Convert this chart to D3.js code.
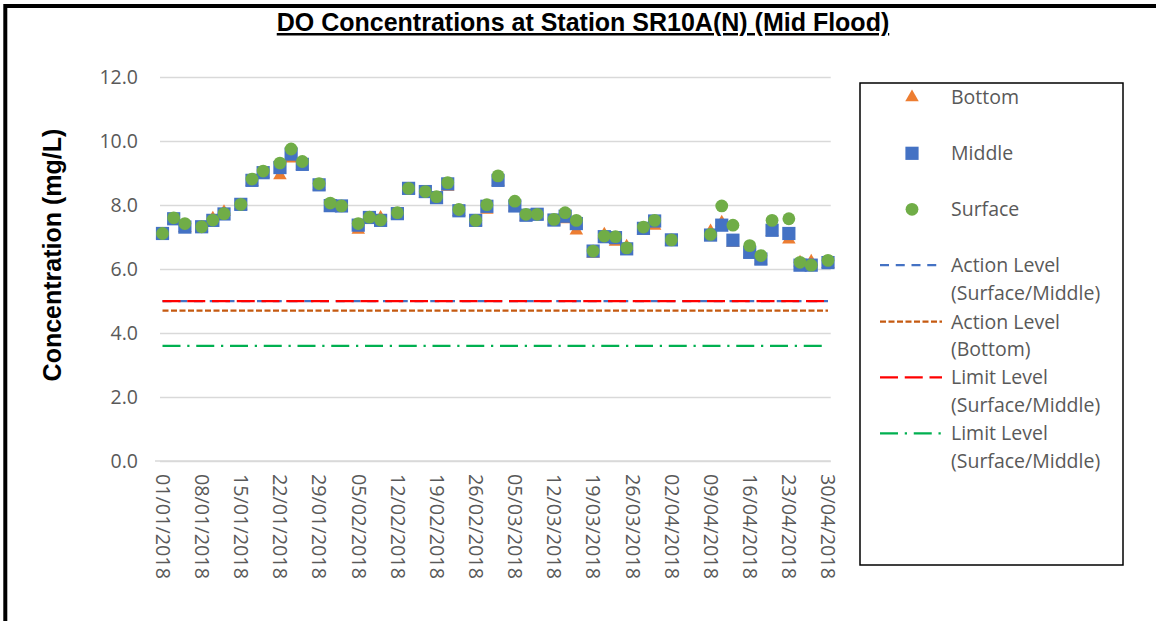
<!DOCTYPE html>
<html>
<head>
<meta charset="utf-8">
<script src="https://cdn.jsdelivr.net/npm/d3@7"></script>
<style>
  html, body { margin: 0; padding: 0; background: #fff; }
  svg { display: block; }
</style>
</head>
<body>
<svg id="chart" width="1156" height="621"></svg>
<script>
// Sampling dates (dd/mm/yyyy) and dissolved oxygen readings, mg/L
const sampleDates = [
  "01/01/2018","03/01/2018","05/01/2018","08/01/2018","10/01/2018","12/01/2018",
  "15/01/2018","17/01/2018","19/01/2018","22/01/2018","24/01/2018","26/01/2018",
  "29/01/2018","31/01/2018","02/02/2018","05/02/2018","07/02/2018","09/02/2018",
  "12/02/2018","14/02/2018","17/02/2018","19/02/2018","21/02/2018","23/02/2018",
  "26/02/2018","28/02/2018","02/03/2018","05/03/2018","07/03/2018","09/03/2018",
  "12/03/2018","14/03/2018","16/03/2018","19/03/2018","21/03/2018","23/03/2018",
  "25/03/2018","28/03/2018","30/03/2018","02/04/2018","09/04/2018","11/04/2018",
  "13/04/2018","16/04/2018","18/04/2018","20/04/2018","23/04/2018","25/04/2018",
  "27/04/2018","30/04/2018"
];
const bottomValues = [
  7.08, 7.52, 7.28, 7.28, 7.58, 7.78, 7.98, 8.72, 8.97, 8.93, 9.45, 9.22,
  8.58, 7.93, 7.92, 7.22, 7.58, 7.60, 7.70, 8.48, 8.35, 8.18, 8.57, 7.78,
  7.48, 7.85, 8.72, 7.92, 7.63, 7.66, 7.49, 7.55, 7.20, 6.47, 7.08, 6.85,
  6.70, 7.20, 7.35, 6.86, 7.18, 7.45, 6.82, 6.47, 6.26, 7.15, 6.92, 6.20,
  6.23, 6.15
];
const middleValues = [
  7.11, 7.57, 7.31, 7.32, 7.52, 7.72, 8.02, 8.77, 9.01, 9.17, 9.59, 9.27,
  8.63, 7.98, 7.97, 7.37, 7.61, 7.52, 7.73, 8.52, 8.42, 8.23, 8.66, 7.82,
  7.52, 7.96, 8.77, 7.97, 7.68, 7.71, 7.53, 7.65, 7.42, 6.56, 7.01, 6.98,
  6.63, 7.27, 7.50, 6.91, 7.06, 7.37, 6.90, 6.52, 6.31, 7.21, 7.11, 6.12,
  6.12, 6.20
];
const surfaceValues = [
  7.11, 7.60, 7.42, 7.32, 7.53, 7.73, 8.02, 8.81, 9.06, 9.31, 9.75, 9.36,
  8.67, 8.06, 7.97, 7.42, 7.62, 7.53, 7.76, 8.52, 8.42, 8.26, 8.70, 7.86,
  7.52, 8.01, 8.91, 8.12, 7.71, 7.71, 7.55, 7.76, 7.52, 6.56, 7.03, 7.01,
  6.66, 7.31, 7.52, 6.91, 7.08, 7.97, 7.37, 6.73, 6.42, 7.52, 7.57, 6.21,
  6.12, 6.27
];

// Compliance levels, mg/L
const levelNames = [
  ["Action Level", "(Surface/Middle)"],
  ["Action Level", "(Bottom)"],
  ["Limit Level", "(Surface/Middle)"],
  ["Limit Level", "(Surface/Middle)"]
];
const levelValues = [5.0, 4.7, 5.0, 3.6];

// Axis ticks
const xTickLabels = [
  "01/01/2018","08/01/2018","15/01/2018","22/01/2018","29/01/2018","05/02/2018",
  "12/02/2018","19/02/2018","26/02/2018","05/03/2018","12/03/2018","19/03/2018",
  "26/03/2018","02/04/2018","09/04/2018","16/04/2018","23/04/2018","30/04/2018"
];
const yTickValues = [0, 2, 4, 6, 8, 10, 12];

const seriesNames = ["Bottom", "Middle", "Surface"];
const titleText = "DO Concentrations at Station SR10A(N) (Mid Flood)";
const yTitleText = "Concentration (mg/L)";

// ---------------------------------------------------------------
const parseDate = d3.utcParse("%d/%m/%Y");
const fmtDate = d3.utcFormat("%d/%m/%Y");
const dates = sampleDates.map(parseDate);
const tickDates = xTickLabels.map(parseDate);

const svg = d3.select("#chart");
const labelFont = "'Open Sans', 'DejaVu Sans', sans-serif";
const boldFont = "'Liberation Sans', Arial, sans-serif";
const grey = "#595959";

const plot = { left: 160, right: 830.7, top: 77, bottom: 461 };

const x = d3.scaleUtc()
  .domain([dates[0], dates[dates.length - 1]])
  .range([162.5, 828]);
const y = d3.scaleLinear().domain([0, 12]).range([plot.bottom, plot.top]);

// outer frame
svg.append("rect")
  .attr("x", 5.3).attr("y", 6)
  .attr("width", 1300).attr("height", 800)
  .attr("fill", "none").attr("stroke", "#000").attr("stroke-width", 4);

// title
svg.append("text")
  .attr("x", 583).attr("y", 31)
  .attr("text-anchor", "middle")
  .attr("font-family", boldFont).attr("font-weight", "bold")
  .attr("font-size", 25)
  .attr("text-decoration", "underline")
  .attr("fill", "#000")
  .text(titleText);

// y gridlines + labels
const yAxis = svg.append("g")
  .attr("transform", `translate(${plot.left},0)`)
  .call(d3.axisLeft(y)
    .tickValues(yTickValues)
    .tickSize(-(plot.right - plot.left))
    .tickPadding(22)
    .tickFormat(d3.format(".1f")));
yAxis.select(".domain").remove();
yAxis.selectAll(".tick line")
  .attr("stroke", "#D9D9D9").attr("stroke-width", 1.3);
yAxis.selectAll(".tick text")
  .attr("font-family", labelFont).attr("font-size", 19.5)
  .attr("fill", grey);

// x axis
const xAxis = svg.append("g")
  .attr("transform", `translate(0,${plot.bottom})`)
  .call(d3.axisBottom(x)
    .tickValues(tickDates)
    .tickSize(0)
    .tickFormat(fmtDate));
xAxis.select(".domain").remove();
xAxis.selectAll(".tick text")
  .attr("font-family", labelFont).attr("font-size", 19.8)
  .attr("fill", grey)
  .attr("transform", "rotate(90)")
  .attr("x", 13).attr("y", 0)
  .attr("dy", "0.36em")
  .attr("text-anchor", "start");
svg.append("line")
  .attr("x1", 155).attr("x2", plot.right)
  .attr("y1", plot.bottom).attr("y2", plot.bottom)
  .attr("stroke", "#D9D9D9").attr("stroke-width", 1.6);

// y axis title
svg.append("text")
  .attr("transform", "translate(52,255) rotate(-90)")
  .attr("text-anchor", "middle")
  .attr("dy", "0.36em")
  .attr("font-family", boldFont).attr("font-weight", "bold")
  .attr("font-size", 25)
  .attr("fill", "#000")
  .text(yTitleText);

// level lines
const levelStyles = [
  { color: "#4472C4", dash: "9,6.75" },
  { color: "#C55A11", dash: "6,2.5" },
  { color: "#FF0000", dash: "18,6.75" },
  { color: "#00B050", dash: "18,6.75,2.25,6.75" }
];
const span = [dates[0], dates[dates.length - 1]];
const levelLine = d3.line().x(d => x(d[0])).y(d => y(d[1]));
levelValues.forEach((v, i) => {
  svg.append("path")
    .attr("d", levelLine(span.map(d => [d, v])))
    .attr("fill", "none")
    .attr("stroke", levelStyles[i].color)
    .attr("stroke-width", 2.25)
    .attr("stroke-dasharray", levelStyles[i].dash);
});

// markers
const colors = { Bottom: "#ED7D31", Middle: "#4472C4", Surface: "#70AD47" };
const triSide = 13.5;
const triArea = triSide * triSide * Math.sqrt(3) / 4;
const tri = d3.symbol(d3.symbolTriangle, triArea);
const sq = 13.2;
const cr = 6.4;

svg.append("g").selectAll("path")
  .data(dates.map((d, i) => [d, bottomValues[i]]))
  .join("path")
  .attr("d", tri)
  .attr("transform", d => `translate(${x(d[0])},${y(d[1])})`)
  .attr("fill", colors.Bottom);

svg.append("g").selectAll("rect")
  .data(dates.map((d, i) => [d, middleValues[i]]))
  .join("rect")
  .attr("x", d => x(d[0]) - sq / 2)
  .attr("y", d => y(d[1]) - sq / 2)
  .attr("width", sq).attr("height", sq)
  .attr("fill", colors.Middle);

svg.append("g").selectAll("circle")
  .data(dates.map((d, i) => [d, surfaceValues[i]]))
  .join("circle")
  .attr("cx", d => x(d[0]))
  .attr("cy", d => y(d[1]))
  .attr("r", cr)
  .attr("fill", colors.Surface);

// legend
const lg = svg.append("g");
lg.append("rect")
  .attr("x", 860).attr("y", 83)
  .attr("width", 263).attr("height", 482)
  .attr("fill", "#fff").attr("stroke", "#000").attr("stroke-width", 1.5);

const legendText = (tx, ty, str) => lg.append("text")
  .attr("x", tx).attr("y", ty).attr("dy", "0.36em")
  .attr("font-family", labelFont).attr("font-size", 19.5)
  .attr("fill", grey).text(str);

const mx = 912;
const rowY = [97.3, 153.3, 209.3];
lg.append("path").attr("d", tri)
  .attr("transform", `translate(${mx},${rowY[0]})`).attr("fill", colors.Bottom);
lg.append("rect")
  .attr("x", mx - sq / 2).attr("y", rowY[1] - sq / 2)
  .attr("width", sq).attr("height", sq).attr("fill", colors.Middle);
lg.append("circle").attr("cx", mx).attr("cy", rowY[2]).attr("r", cr)
  .attr("fill", colors.Surface);
seriesNames.forEach((n, i) => legendText(951, rowY[i], n));

const lineRowY = [265, 321.7, 377.3, 433.3];
levelNames.forEach((lines, i) => {
  lg.append("line")
    .attr("x1", 880).attr("x2", 942)
    .attr("y1", lineRowY[i]).attr("y2", lineRowY[i])
    .attr("stroke", levelStyles[i].color)
    .attr("stroke-width", 2.25)
    .attr("stroke-dasharray", levelStyles[i].dash);
  legendText(951, lineRowY[i], lines[0]);
  legendText(951, lineRowY[i] + 27.5, lines[1]);
});
</script>
</body>
</html>
